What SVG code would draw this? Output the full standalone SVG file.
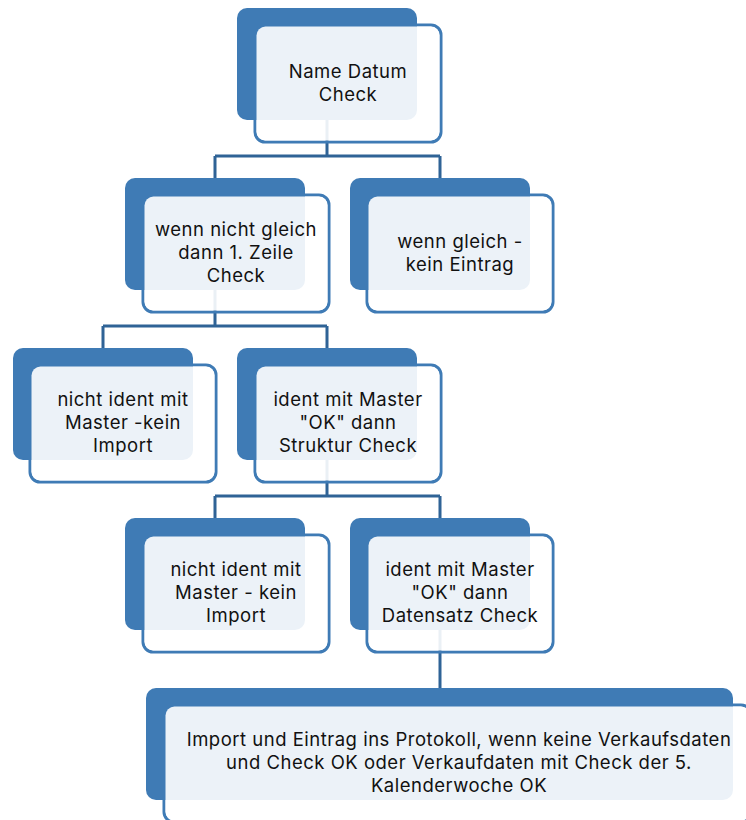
<svg xmlns="http://www.w3.org/2000/svg" width="746" height="820" viewBox="0 0 746 820">
<style>
.back{fill:#3F7BB5}
.frame{fill:none;stroke:#3F7BB5;stroke-width:3}
.fill{fill:#fff;fill-opacity:0.9}
.conn{fill:none;stroke:#2F6396;stroke-width:3}
text{font-family:Inter,"Open Sans","Liberation Sans",sans-serif;font-size:18.5px;letter-spacing:0.5px;fill:#111;text-anchor:middle}
</style>
<g id="connectors">
<path class="conn" d="M327,120 V156 M215,156 H440 M215,156 V178 M440,156 V178"/>
<path class="conn" d="M215,290 V326 M103,326 H327 M103,326 V348 M327,326 V348"/>
<path class="conn" d="M327,460 V496 M215,496 H440 M215,496 V518 M440,496 V518"/>
<path class="conn" d="M440,630 V688"/>
</g>
<g id="n1">
<rect class="frame" x="255" y="25" width="186" height="117" rx="10"/>
<rect class="back" x="237" y="8" width="180" height="112" rx="10"/>
<rect class="fill" x="256.5" y="26.5" width="183" height="114" rx="9"/>
<text x="348" y="78">Name Datum</text><text x="348" y="101">Check</text>
</g>
<g id="n2">
<rect class="frame" x="143" y="195" width="186" height="117" rx="10"/>
<rect class="back" x="125" y="178" width="180" height="112" rx="10"/>
<rect class="fill" x="144.5" y="196.5" width="183" height="114" rx="9"/>
<text x="236" y="236">wenn nicht gleich</text><text x="236" y="259">dann 1. Zeile</text><text x="236" y="282">Check</text>
</g>
<g id="n3">
<rect class="frame" x="367" y="195" width="186" height="117" rx="10"/>
<rect class="back" x="350" y="178" width="180" height="112" rx="10"/>
<rect class="fill" x="368.5" y="196.5" width="183" height="114" rx="9"/>
<text x="460" y="248">wenn gleich -</text><text x="460" y="271">kein Eintrag</text>
</g>
<g id="n4">
<rect class="frame" x="30" y="365" width="186" height="117" rx="10"/>
<rect class="back" x="13" y="348" width="180" height="112" rx="10"/>
<rect class="fill" x="31.5" y="366.5" width="183" height="114" rx="9"/>
<text x="123" y="406">nicht ident mit</text><text x="123" y="429">Master -kein</text><text x="123" y="452">Import</text>
</g>
<g id="n5">
<rect class="frame" x="255" y="365" width="186" height="117" rx="10"/>
<rect class="back" x="237" y="348" width="180" height="112" rx="10"/>
<rect class="fill" x="256.5" y="366.5" width="183" height="114" rx="9"/>
<text x="348" y="406">ident mit Master</text><text x="348" y="429">"OK" dann</text><text x="348" y="452">Struktur Check</text>
</g>
<g id="n6">
<rect class="frame" x="143" y="535" width="186" height="117" rx="10"/>
<rect class="back" x="125" y="518" width="180" height="112" rx="10"/>
<rect class="fill" x="144.5" y="536.5" width="183" height="114" rx="9"/>
<text x="236" y="576">nicht ident mit</text><text x="236" y="599">Master - kein</text><text x="236" y="622">Import</text>
</g>
<g id="n7">
<rect class="frame" x="367" y="535" width="186" height="117" rx="10"/>
<rect class="back" x="350" y="518" width="180" height="112" rx="10"/>
<rect class="fill" x="368.5" y="536.5" width="183" height="114" rx="9"/>
<text x="460" y="576">ident mit Master</text><text x="460" y="599">"OK" dann</text><text x="460" y="622">Datensatz Check</text>
</g>
<g id="n8">
<rect class="frame" x="164" y="705" width="587" height="117" rx="10"/>
<rect class="back" x="146" y="688" width="587" height="112" rx="10"/>
<rect class="fill" x="165.5" y="706.5" width="584" height="114" rx="9"/>
<text x="459" y="746">Import und Eintrag ins Protokoll, wenn keine Verkaufsdaten</text>
<text x="459" y="769">und Check OK oder Verkaufdaten mit Check der 5.</text>
<text x="459" y="792">Kalenderwoche OK</text>
</g>
</svg>
